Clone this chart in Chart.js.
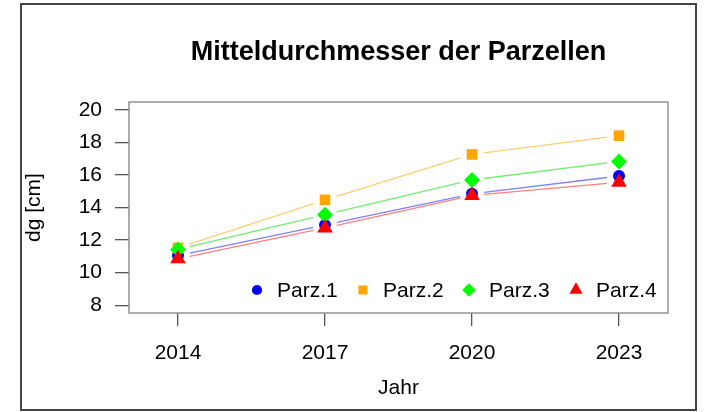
<!DOCTYPE html>
<html>
<head>
<meta charset="utf-8">
<script src="https://cdn.jsdelivr.net/npm/chart.js@4/dist/chart.umd.min.js"></script>
<style>
  html, body { margin: 0; padding: 0; background: #fff; }
  #wrap { position: relative; width: 704px; height: 412px; }
</style>
</head>
<body>
<div id="wrap"><canvas id="c" width="704" height="412"></canvas></div>
<script>
// ---- data ----
const years = [2014, 2017, 2020, 2023];
const parz1 = [11.05, 12.93, 14.84, 15.93];
const parz2 = [11.52, 14.47, 17.26, 18.41];
const parz3 = [11.42, 13.56, 15.69, 16.83];
const parz4 = [10.85, 12.74, 14.74, 15.55];
const seriesNames = ['Parz.1', 'Parz.2', 'Parz.3', 'Parz.4'];
const yTickValues = [8, 10, 12, 14, 16, 18, 20];
const xTickValues = [2014, 2017, 2020, 2023];
const titleText = 'Mitteldurchmesser der Parzellen';
const xTitle = 'Jahr';
const yTitle = 'dg [cm]';

const FONT = '"Liberation Sans", Arial, Helvetica, sans-serif';
const pointColors = ['#0000ff', '#ffa500', '#00ff00', '#ff0000'];
const lineColors = ['rgba(0,0,255,0.5)', 'rgba(255,165,0,0.55)', 'rgba(0,220,0,0.55)', 'rgba(255,0,0,0.5)'];
const styles = ['circle', 'rect', 'rectRot', 'triangle'];
const radii = [6, 7.5, 8, 9];

const allSeries = [parz1, parz2, parz3, parz4];
const datasets = allSeries.map((vals, i) => ({
  label: seriesNames[i],
  data: years.map((yr, j) => ({ x: yr, y: vals[j] })),
  showLine: false,
  pointStyle: styles[i],
  pointRadius: radii[i],
  pointHoverRadius: radii[i],
  pointBackgroundColor: pointColors[i],
  pointBorderColor: pointColors[i],
  pointBorderWidth: 0,
  order: 3 - i
}));

function drawMarker(ctx, style, r, x, y, color) {
  ctx.save();
  ctx.fillStyle = color;
  ctx.beginPath();
  if (style === 'circle') {
    ctx.arc(x, y, r, 0, Math.PI * 2);
  } else if (style === 'rect') {
    const s = Math.SQRT1_2 * r;
    ctx.rect(x - s, y - s, 2 * s, 2 * s);
  } else if (style === 'rectRot') {
    ctx.moveTo(x - r, y); ctx.lineTo(x, y - r); ctx.lineTo(x + r, y); ctx.lineTo(x, y + r);
  } else if (style === 'triangle') {
    const a = 2 * Math.PI / 3;
    ctx.moveTo(x, y - r);
    ctx.lineTo(x + Math.sin(a) * r, y - Math.cos(a) * r);
    ctx.lineTo(x + Math.sin(2 * a) * r, y - Math.cos(2 * a) * r);
  }
  ctx.closePath();
  ctx.fill();
  ctx.restore();
}

const decor = {
  id: 'decor',
  beforeDatasetsDraw(chart) {
    const ctx = chart.ctx;
    // connecting lines with gaps (R type="b")
    const gap = 12;
    chart.data.datasets.forEach((ds, i) => {
      const meta = chart.getDatasetMeta(i);
      ctx.save();
      ctx.strokeStyle = lineColors[i];
      ctx.lineWidth = 1.3;
      for (let k = 0; k < meta.data.length - 1; k++) {
        const a = meta.data[k], b = meta.data[k + 1];
        const dx = b.x - a.x, dy = b.y - a.y;
        const len = Math.hypot(dx, dy);
        const ux = dx / len, uy = dy / len;
        ctx.beginPath();
        ctx.moveTo(a.x + ux * gap, a.y + uy * gap);
        ctx.lineTo(b.x - ux * gap, b.y - uy * gap);
        ctx.stroke();
      }
      ctx.restore();
    });
  },
  afterDraw(chart) {
    const ctx = chart.ctx;
    const ca = chart.chartArea;
    ctx.save();
    // plot box
    ctx.strokeStyle = '#8a8a8a';
    ctx.lineWidth = 1.4;
    ctx.strokeRect(ca.left, ca.top, ca.right - ca.left, ca.bottom - ca.top);
    // outer frame
    ctx.strokeStyle = '#444';
    ctx.lineWidth = 2;
    ctx.strokeRect(21, 4, 675, 406);
    // title
    ctx.fillStyle = '#000';
    ctx.textAlign = 'center';
    ctx.textBaseline = 'middle';
    ctx.font = 'bold 27px ' + FONT;
    ctx.fillText(titleText, (ca.left + ca.right) / 2, 53);
    // axis titles
    ctx.font = '21px ' + FONT;
    ctx.fillText(xTitle, (ca.left + ca.right) / 2, 388);
    ctx.save();
    ctx.translate(34, (ca.top + ca.bottom) / 2);
    ctx.rotate(-Math.PI / 2);
    ctx.fillText(yTitle, 0, 0);
    ctx.restore();
    // legend
    const lx = [257, 363, 469, 576];
    const ly = 290;
    ctx.textAlign = 'left';
    ctx.font = '21px ' + FONT;
    seriesNames.forEach((n, i) => {
      drawMarker(ctx, styles[i], radii[i] * 0.85, lx[i], ly, pointColors[i]);
      ctx.fillStyle = '#000';
      ctx.fillText(n, lx[i] + 20, ly + 1);
    });
    ctx.restore();
  }
};

new Chart(document.getElementById('c'), {
  type: 'scatter',
  data: { datasets },
  plugins: [decor],
  options: {
    responsive: false,
    animation: false,
    devicePixelRatio: 1,
    layout: { padding: { left: 0, top: 102, right: 36, bottom: 0 } },
    plugins: { legend: { display: false }, title: { display: false }, tooltip: { enabled: false } },
    scales: {
      x: {
        type: 'linear',
        min: 2013.0,
        max: 2024.0,
        afterBuildTicks: (s) => { s.ticks = xTickValues.map(v => ({ value: v })); },
        afterFit: (s) => { s.height = 99; },
        border: { display: false },
        grid: { drawOnChartArea: false, drawTicks: true, tickLength: 13, tickColor: '#555', lineWidth: 1.3 },
        ticks: { color: '#000', font: { family: FONT, size: 21 }, padding: 15, maxRotation: 0, autoSkip: false,
                 callback: (v) => String(v) }
      },
      y: {
        type: 'linear',
        min: 7.52,
        max: 20.48,
        afterBuildTicks: (s) => { s.ticks = yTickValues.map(v => ({ value: v })); },
        afterFit: (s) => { s.width = 129; },
        border: { display: false },
        grid: { drawOnChartArea: false, drawTicks: true, tickLength: 14, tickColor: '#555', lineWidth: 1.3 },
        ticks: { color: '#000', font: { family: FONT, size: 21 }, padding: 13, autoSkip: false,
                 callback: (v) => String(v) }
      }
    }
  }
});
</script>
</body>
</html>
